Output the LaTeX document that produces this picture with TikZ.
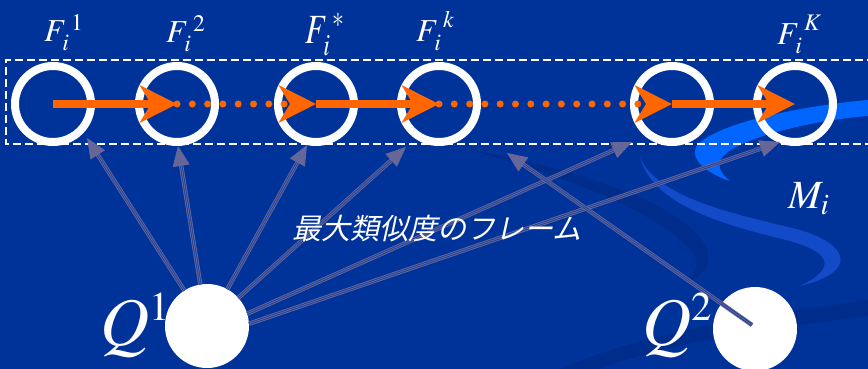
\documentclass[tikz,border=0pt]{standalone}
\usepackage{graphicx}
\usepackage{mathptmx}
\usepackage[no-math]{fontspec}
\newfontfamily\jp{Noto Sans CJK JP}[FakeSlant=0.22]
\usetikzlibrary{arrows.meta}
\definecolor{bg}{RGB}{0,51,153}
\definecolor{org}{RGB}{255,102,0}
\definecolor{garr}{RGB}{102,102,153}
\definecolor{swa}{RGB}{0,102,255}
\definecolor{swb}{RGB}{18,74,200}
\definecolor{swc}{RGB}{0,45,140}
% F_i^{#1}: #2 = raise of the superscript
\newcommand\FF[2]{$F$\kern-4pt\raisebox{-9pt}{$\scriptstyle i$}\kern2pt\raisebox{#2}[\dimexpr#2+10pt\relax][0pt]{$\scriptstyle #1$}}
\begin{document}
\begin{tikzpicture}[x=1pt,y=-1pt,
  ring/.style={circle,draw=white,line width=8pt,minimum size=76pt,inner sep=0pt},
  qdot/.style={circle,fill=white,minimum size=84pt,inner sep=0pt,outer sep=0pt},
  osolid/.style={draw=org,line width=7pt,-{Stealth[length=37pt,width=37pt,inset=11pt]}},
  odots/.style={draw=org,line width=7pt,line cap=round,dash pattern=on 0pt off 15.3pt,-{Stealth[length=37pt,width=37pt,inset=11pt]}},
  gshaft/.style={draw=garr,line width=0.9pt,double=garr!30!bg,double distance=2.6pt,shorten >=15pt},
  ghead/.style={draw=garr,line width=0.8pt,-{Triangle[length=20pt,width=17pt]}},
  lbl/.style={text=white,inner sep=0pt,anchor=base west},
  flbl/.style={lbl,font=\fontsize{32}{34}\selectfont},
  frame/.style={draw=white,line width=1.3pt,dash pattern=on 8pt off 4pt}]
\useasboundingbox (0,0) rectangle (868,369);
\clip (0,0) rectangle (868,369);
\fill[bg] (0,0) rectangle (868,369);
% background decoration
\fill[swc] (470,150) .. controls (560,165) and (680,200) .. (705,245)
  .. controls (715,265) and (700,278) .. (688,282)
  .. controls (700,268) and (700,255) .. (680,240)
  .. controls (640,205) and (560,175) .. (470,150) -- cycle;
\fill[swc] (560,369) .. controls (650,330) and (760,315) .. (868,300) -- (868,316)
  .. controls (760,330) and (660,345) .. (600,369) -- cycle;
\fill[swb] (640,158) .. controls (660,200) and (740,215) .. (800,230)
  .. controls (850,245) and (858,272) .. (800,286)
  .. controls (838,268) and (830,252) .. (790,241)
  .. controls (730,226) and (655,208) .. (640,158) -- cycle;
\fill[swa] (868,100) .. controls (800,106) and (712,124) .. (696,147)
  .. controls (690,160) and (708,174) .. (730,181)
  .. controls (716,170) and (714,158) .. (736,147)
  .. controls (772,129) and (830,119) .. (868,116) -- cycle;
% frame
\draw[frame] (875,60) -- (6,60) -- (6,144) -- (875,144);
% frame circles
\node[ring] (c1) at (53,104) {};
\node[ring] (c2) at (177,104) {};
\node[ring] (c3) at (316,104) {};
\node[ring] (c4) at (439,104) {};
\node[ring] (c5) at (672,104) {};
\node[ring] (c6) at (795,104) {};
% orange path
\draw[osolid] (c1.center) -- (c2.center);
\draw[odots] (c2.center) -- (c3.center);
\draw[osolid] (c3.center) -- (c4.center);
\draw[odots] (c4.center) -- (c5.center);
\draw[osolid] (c5.center) -- (c6.center);
% query nodes
\node[qdot] (Q1) at (207,326) {};
\node[qdot] (Q2) at (755,329) {};
% arrow targets
\coordinate (t1) at (87,138);
\coordinate (t2) at (178,146);
\coordinate (t3) at (307,145);
\coordinate (t4) at (406,147);
\coordinate (t5) at (632,142);
\coordinate (t6) at (780,142);
\coordinate (t7) at (507,153);
\coordinate (s2) at ([shift={(-3,-4)}]Q2.center);
\foreach \t in {t1,t2,t3,t4}{
  \draw[gshaft] (Q1) -- (\t);
  \draw[ghead] (Q1) -- (\t);
}
\draw[gshaft] (Q1.17) -- (t5);
\draw[ghead] (Q1.17) -- (t5);
\draw[gshaft] (Q1.3) -- (t6);
\draw[ghead] (Q1.3) -- (t6);
\draw[gshaft] (s2) -- (t7);
\draw[ghead] (s2) -- (t7);
% labels
\node[flbl] (l1) at (44,42) {\FF{1}{11pt}};
\node[flbl] (l2) at (166,43) {\FF{2}{11pt}};
\node[flbl] (l3) at (305,44) {\scalebox{1}[1.3]{\FF{\ast}{13pt}}};
\node[flbl] (l4) at (416,42) {\FF{k}{14pt}};
\node[flbl] (l5) at (777,45) {\FF{K}{14pt}};
\node[lbl,font=\fontsize{40}{42}\selectfont] (lm) at (788,208) {$M_i$};
\node[lbl,font=\fontsize{68}{70}\selectfont] (lq1) at (100,345) {$Q^{\scriptscriptstyle 1}$};
\node[lbl,font=\fontsize{68}{70}\selectfont] (lq2) at (642,345) {$Q^{\scriptscriptstyle 2}$};
\node[text=white,inner sep=0pt,font=\jp\fontsize{29}{31}\selectfont] (jt) at (437,229) {最大類似度のフレーム};
\end{tikzpicture}
\end{document}
